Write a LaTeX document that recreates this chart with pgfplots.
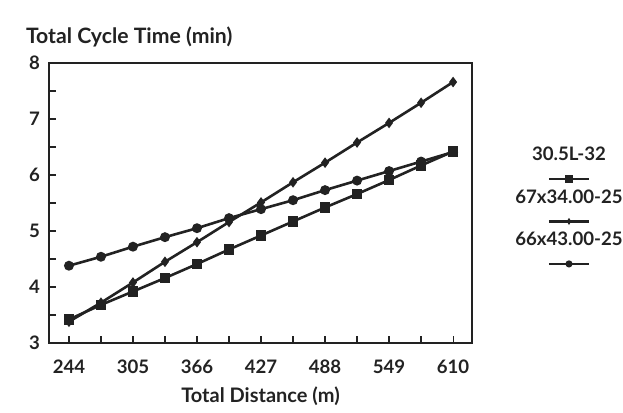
\documentclass[border=0pt]{standalone}
\usepackage{pgfplots}
\pgfplotsset{compat=1.18}
\usepackage{fontspec}
\setmainfont{Lato}
\definecolor{ink}{HTML}{222222}
\newcommand{\lfont}{\fontsize{9.3}{11}\selectfont\bfseries}
% legend swatch: line with a mark in the middle
\newcommand{\legsample}[1]{\tikz[baseline=-0.6ex]{\draw[ink,line width=1.2pt] (0,0) -- (20pt,0); \fill[ink] #1;}}
\begin{document}
\begin{tikzpicture}
\begin{axis}[
  name=ax,
  at={(0,0)}, anchor=south west,
  scale only axis,
  width=211.5pt, height=140pt,
  xmin=225, xmax=628, ymin=3, ymax=8,
  xtick={244,305,...,610},
  minor xtick={274.5,335.5,...,579.5},
  ytick={3,...,8},
  minor ytick={3.5,4.5,...,7.5},
  tick pos=left,
  major tick length=3.5pt, minor tick length=3.5pt,
  tick style={ink, line width=0.6pt},
  axis line style={ink, line width=0.8pt},
  ticklabel style={font=\lfont, text=ink},
  /pgf/number format/assume math mode=true,
  xticklabel style={yshift=-5pt},
  yticklabel style={xshift=-1pt},
  title={Total Cycle Time (min)},
  title style={at={(rel axis cs:0,1)}, anchor=base west, xshift=-15pt, yshift=4pt,
    font=\fontsize{10.6}{12}\selectfont\bfseries, text=ink},
  xlabel={Total Distance (m)},
  xlabel style={at={(rel axis cs:0.5,0)}, anchor=base, yshift=-30pt,
    font=\fontsize{10}{12}\selectfont\bfseries, text=ink},
  every axis plot/.append style={ink, line width=1.3pt},
  legend image code/.code={},
  legend style={at={(1,0.5)}, anchor=center, xshift=48.5pt, draw=none, fill=none,
    font=\lfont, text=ink, row sep=2pt, legend cell align=center},
]
\addplot[mark=square*, mark size=2pt] coordinates {
  (244,3.42) (274.5,3.68) (305,3.92) (335.5,4.16) (366,4.41) (396.5,4.67) (427,4.92)
  (457.5,5.17) (488,5.42) (518.5,5.66) (549,5.91) (579.5,6.17) (610,6.42)
};
\addlegendentry{\begin{tabular}{@{}c@{}}30.5L-32\\[1pt]\legsample{(8pt,-2pt) rectangle (12pt,2pt)}\end{tabular}}
\addplot[mark=diamond*, mark size=1.6pt] coordinates {
  (244,3.38) (274.5,3.72) (305,4.08) (335.5,4.45) (366,4.80) (396.5,5.16) (427,5.51)
  (457.5,5.87) (488,6.22) (518.5,6.58) (549,6.93) (579.5,7.29) (610,7.66)
};
\addlegendentry{\begin{tabular}{@{}c@{}}67x34.00-25\\[1pt]\legsample{(10pt,1.8pt) -- (11.1pt,0) -- (10pt,-1.8pt) -- (8.9pt,0) -- cycle}\end{tabular}}
\addplot[mark=*, mark size=1.8pt] coordinates {
  (244,4.38) (274.5,4.54) (305,4.72) (335.5,4.89) (366,5.05) (396.5,5.23) (427,5.39)
  (457.5,5.55) (488,5.73) (518.5,5.90) (549,6.07) (579.5,6.24) (610,6.41)
};
\addlegendentry{\begin{tabular}{@{}c@{}}66x43.00-25\\[1pt]\legsample{(10pt,0) circle (1.8pt)}\end{tabular}}
\end{axis}
\pgfresetboundingbox
\path (-24.5pt,-35pt) rectangle (287pt,171.5pt);
\end{tikzpicture}
\end{document}
